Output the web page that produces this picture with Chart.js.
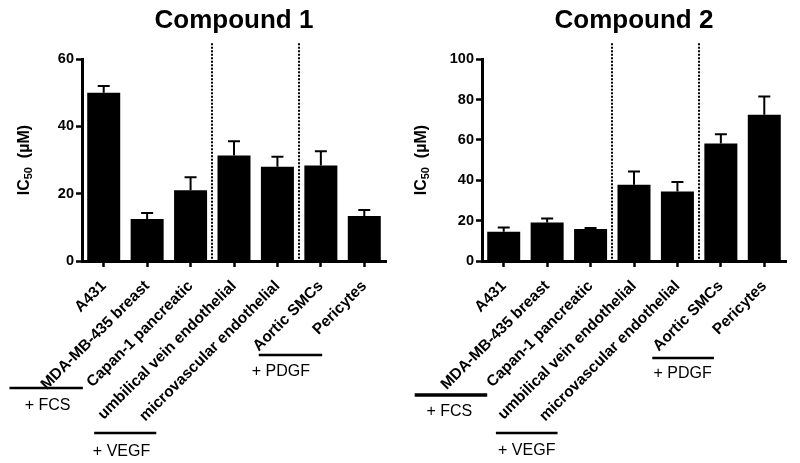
<!DOCTYPE html>
<html>
<head>
<meta charset="utf-8">
<title>IC50 of compounds 1 and 2</title>
<script src="https://cdn.jsdelivr.net/npm/chart.js"></script>
<style>
  body { margin: 0; background: #fff; }
  .wrap { display: flex; width: 800px; height: 463px; }
  canvas { display: block; }
</style>
</head>
<body>
<div class="wrap">
  <canvas id="chart1" width="400" height="463"></canvas>
  <canvas id="chart2" width="400" height="463"></canvas>
</div>
<script>
const cellLines = ["A431", "MDA-MB-435 breast", "Capan-1 pancreatic", "umbilical vein endothelial",
  "microvascular endothelial", "Aortic SMCs", "Pericytes"];
const compound1 = [50, 12.5, 21, 31.4, 28, 28.4, 13.4];
const compound1Err = [2, 1.8, 3.9, 4.2, 3, 4.2, 1.8];
const compound2 = [14.5, 19.1, 15.8, 37.8, 34.5, 58.2, 72.5];
const compound2Err = [2.1, 1.9, 0.5, 6.6, 4.6, 4.6, 9];
const ticks1 = [0, 20, 40, 60];
const ticks2 = [0, 20, 40, 60, 80, 100];
const dividers = [2.5, 4.5];          // dotted lines between cell groups
const groupNames = ["+ FCS", "+ VEGF", "+ PDGF"];

const FONT = "'Liberation Sans', Arial, sans-serif";
Chart.defaults.font.family = FONT;
Chart.defaults.color = "#000";

// placement of the group brackets under the labels (x in category units)
const groups1 = [
  { from: -2.17, to: -0.48, textAt: -1.82, lineY: 388, textY: 410, lw: 2.5 },
  { from: -0.22, to: 1.21, textAt: -0.25, lineY: 433, textY: 456, lw: 2.5 },
  { from: 3.57, to: 5.03, textAt: 3.41, lineY: 355, textY: 376, lw: 2.5 }
];
const groups2 = [
  { from: -2.05, to: -0.38, textAt: -1.78, lineY: 395, textY: 416, lw: 3.5 },
  { from: -0.18, to: 1.24, textAt: -0.13, lineY: 433, textY: 455, lw: 2.5 },
  { from: 3.42, to: 4.84, textAt: 3.45, lineY: 358, textY: 378, lw: 2.5 }
];

const decor = {
  id: "decor",
  afterDatasetsDraw(chart, args, opts) {
    const { ctx, chartArea, scales: { x, y } } = chart;
    const meta = chart.getDatasetMeta(0);
    ctx.save();

    // error bars (upper half only, the lower half sits inside the black bar)
    ctx.strokeStyle = "#000";
    ctx.lineWidth = 2;
    meta.data.forEach((bar, i) => {
      const yTop = y.getPixelForValue(opts.values[i] + opts.errors[i]);
      ctx.beginPath();
      ctx.moveTo(bar.x, bar.y);
      ctx.lineTo(bar.x, yTop);
      ctx.moveTo(bar.x - 6, yTop);
      ctx.lineTo(bar.x + 6, yTop);
      ctx.stroke();
    });

    // dotted dividers
    ctx.setLineDash([2, 1.5]);
    ctx.lineWidth = 2;
    dividers.forEach(d => {
      const px = Math.round(x.getPixelForValue(d));
      ctx.beginPath();
      ctx.moveTo(px, chartArea.top - 16);
      ctx.lineTo(px, chartArea.bottom);
      ctx.stroke();
    });
    ctx.setLineDash([]);

    // y axis title with subscript
    const cy = (chartArea.top + chartArea.bottom) / 2;
    ctx.translate(opts.titleX, cy);
    ctx.rotate(-Math.PI / 2);
    ctx.fillStyle = "#000";
    ctx.textBaseline = "middle";
    ctx.textAlign = "left";
    const big = "bold 16px " + FONT, small = "bold 11px " + FONT;
    ctx.font = big;
    const w1 = ctx.measureText("IC").width;
    const w3 = ctx.measureText("  (µM)").width;
    ctx.font = small;
    const w2 = ctx.measureText("50").width;
    let sx = -(w1 + w2 + w3) / 2;
    ctx.font = big;
    ctx.fillText("IC", sx, 0);
    ctx.font = small;
    ctx.fillText("50", sx + w1, 4);
    ctx.font = big;
    ctx.fillText("  (µM)", sx + w1 + w2, 0);
    ctx.setTransform(1, 0, 0, 1, 0, 0);

    // group brackets
    ctx.font = "16px " + FONT;
    ctx.textBaseline = "alphabetic";
    opts.groups.forEach((g, i) => {
      ctx.lineWidth = g.lw;
      ctx.beginPath();
      ctx.moveTo(x.getPixelForValue(g.from), g.lineY);
      ctx.lineTo(x.getPixelForValue(g.to), g.lineY);
      ctx.stroke();
      ctx.fillText(groupNames[i], x.getPixelForValue(g.textAt), g.textY);
    });
    ctx.restore();
  }
};

function makeChart(id, title, values, errors, ticks, groups, titleX) {
  const axisGrid = {
    display: true, drawOnChartArea: false, drawTicks: true, offset: false,
    tickLength: 6, tickWidth: 2.5, tickColor: "#000"
  };
  const axisBorder = { display: true, color: "#000", width: 3 };
  return new Chart(document.getElementById(id), {
    type: "bar",
    data: {
      labels: cellLines,
      datasets: [{
        data: values,
        backgroundColor: "#000",
        borderWidth: 0,
        barPercentage: 0.76,
        categoryPercentage: 1
      }]
    },
    options: {
      responsive: false,
      animation: false,
      layout: { padding: { left: 0, right: 14, top: 0, bottom: 0 } },
      plugins: {
        legend: { display: false },
        tooltip: { enabled: false },
        title: {
          display: true, text: title, fullSize: false, color: "#000",
          font: { size: 26, weight: "bold" },
          padding: { top: 5, bottom: 23 }
        },
        decor: { values, errors, groups, titleX }
      },
      scales: {
        x: {
          offset: true,
          grid: axisGrid,
          border: axisBorder,
          ticks: {
            color: "#000", autoSkip: false, minRotation: 45, maxRotation: 45, padding: 10,
            font: { size: 15.5, weight: "bold" }
          },
          afterFit(s) { s.height = 202; }
        },
        y: {
          min: 0,
          max: ticks[ticks.length - 1],
          afterBuildTicks(s) { s.ticks = ticks.map(v => ({ value: v })); },
          grid: axisGrid,
          border: axisBorder,
          ticks: { color: "#000", padding: 2, font: { size: 14.5, weight: "bold" } },
          afterFit(s) { s.width = 82; }
        }
      }
    },
    plugins: [decor]
  });
}

makeChart("chart1", "Compound 1", compound1, compound1Err, ticks1, groups1, 25);
makeChart("chart2", "Compound 2", compound2, compound2Err, ticks2, groups2, 22);
</script>
</body>
</html>
